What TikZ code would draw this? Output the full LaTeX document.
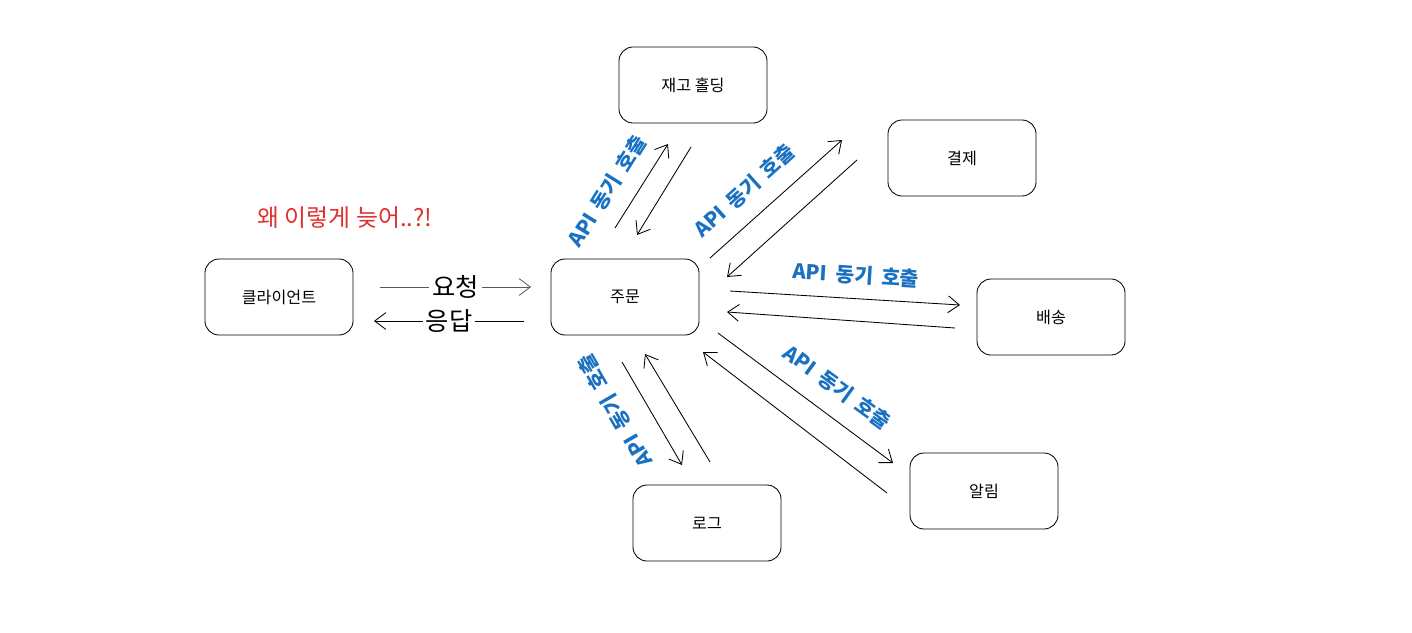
\documentclass[tikz,border=0pt]{standalone}
\usepackage{fontspec}
\setmainfont{Noto Sans CJK KR}
\newfontfamily\callfont[WordSpace=1.8]{Noto Sans CJK KR}
\usetikzlibrary{arrows.meta}

\definecolor{apiblue}{HTML}{1971C2}
\definecolor{alertred}{HTML}{E03131}

\begin{document}
\begin{tikzpicture}[
  x=0.025cm, y=-0.025cm,
  >={Straight Barb[length=2.8mm, width=4.2mm]},
  % Define block styles
  servicebox/.style={
    draw,
    rounded corners=10pt,
    line width=0.6pt,
    minimum width=3.7cm,
    minimum height=1.9cm,
    align=center,
    font=\fontsize{11.5}{13}\selectfont
  },
  apilabel/.style={
    text=apiblue,
    inner sep=1pt,
    font=\callfont\fontsize{14.5}{16}\selectfont\bfseries
  },
  flowlabel/.style={
    fill=white,
    inner sep=2pt,
    font=\fontsize{18}{20}\selectfont
  },
  % Arrows style
  connector/.style={
    ->,
    line width=0.6pt
  }
]

\fill[white] (0,0) rectangle (1412,632);
\useasboundingbox (0,0) rectangle (1412,632);

% -----------------------------------------------
% SERVICES
% -----------------------------------------------
\node[servicebox] (client) at (279,297) {클라이언트};
\node[servicebox] (order)  at (625,297) {주문};
\node[servicebox] (stock)  at (693,85)  {재고 홀딩};
\node[servicebox] (payment) at (962,158) {결제};
\node[servicebox] (shipping) at (1051,317) {배송};
\node[servicebox] (notify) at (984,491) {알림};
\node[servicebox] (logging) at (707,523) {로그};

\node[text=alertred, font=\fontsize{17}{19}\selectfont] (why) at (345,218) {왜 이렇게 늦어..?!};

% -----------------------------------------------
% CONNECTOR END POINTS
% -----------------------------------------------
\coordinate (reqStart) at (380,287);
\coordinate (reqEnd)   at (531,287);
\coordinate (resStart) at (524,321);
\coordinate (resEnd)   at (374,321);

\coordinate (stockOut) at (615,228);
\coordinate (stockTo)  at (668,144);
\coordinate (stockBack) at (691,147);
\coordinate (stockIn)  at (637,235);

\coordinate (payOut)  at (710,258);
\coordinate (payTo)   at (842,140);
\coordinate (payBack) at (857,160);
\coordinate (payIn)   at (727,277);

\coordinate (shipOut)  at (730,291);
\coordinate (shipTo)   at (960,305);
\coordinate (shipBack) at (955,328);
\coordinate (shipIn)   at (727,312);

\coordinate (notifyOut)  at (718,333);
\coordinate (notifyTo)   at (893,463);
\coordinate (notifyBack) at (887,493);
\coordinate (notifyIn)   at (703,352);

\coordinate (logOut)  at (622,362);
\coordinate (logTo)   at (682,465);
\coordinate (logBack) at (710,462);
\coordinate (logIn)   at (645,354);

% -----------------------------------------------
% ARROWS AND CONNECTIONS
% -----------------------------------------------

% Client <-> order
\draw[connector, black!65] (reqStart) -- node[flowlabel, text=black] {요청} (reqEnd);
\draw[connector] (resStart) -- node[flowlabel] {응답} (resEnd);

% Order -> services (sync calls)
\draw[connector] (stockOut) -- (stockTo);
\draw[connector] (stockBack) -- (stockIn);
\draw[connector] (payOut) -- (payTo);
\draw[connector] (payBack) -- (payIn);
\draw[connector] (shipOut) -- (shipTo);
\draw[connector] (shipBack) -- (shipIn);
\draw[connector] (notifyOut) -- (notifyTo);
\draw[connector] (notifyBack) -- (notifyIn);
\draw[connector] (logOut) -- (logTo);
\draw[connector] (logBack) -- (logIn);

% Call labels
\node[apilabel, rotate=58]  (stockCall)  at (607,191) {API 동기 호출};
\node[apilabel, rotate=42]  (payCall)    at (744,191) {API 동기 호출};
\node[apilabel, rotate=-3.5] (shipCall)  at (856,275) {API 동기 호출};
\node[apilabel, rotate=-36] (notifyCall) at (837,387) {API 동기 호출};
\node[apilabel, rotate=120] (logCall)    at (615,411) {API 동기 호출};

\end{tikzpicture}
\end{document}
